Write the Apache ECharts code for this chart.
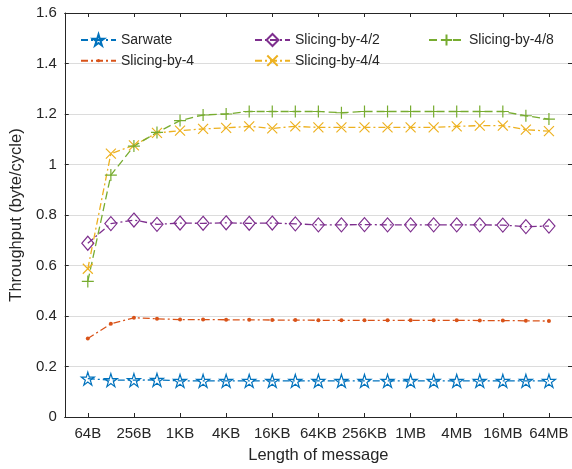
<!DOCTYPE html>
<html>
<head>
<meta charset="utf-8">
<script src="https://cdn.jsdelivr.net/npm/echarts@6/dist/echarts.min.js"></script>
<style>
html,body{margin:0;padding:0;background:#fff;}
#chart{width:572px;height:469px;}
</style>
</head>
<body>
<div id="chart"></div>
<script>
// ---- data ----
var sizes = ['64B','128B','256B','512B','1KB','2KB','4KB','8KB','16KB','32KB','64KB','128KB','256KB','512KB','1MB','2MB','4MB','8MB','16MB','32MB','64MB'];
var tickIndex = [0,2,4,6,8,10,12,14,16,18,20];
var yTicks = [0,0.2,0.4,0.6,0.8,1,1.2,1.4,1.6];
var seriesNames = ['Sarwate','Slicing-by-4','Slicing-by-4/2','Slicing-by-4/4','Slicing-by-4/8'];
var sarwate = [0.152,0.146,0.146,0.147,0.143,0.143,0.143,0.143,0.143,0.143,0.143,0.143,0.143,0.143,0.143,0.143,0.143,0.143,0.143,0.143,0.143];
var slicing4 = [0.311,0.369,0.393,0.389,0.386,0.386,0.385,0.385,0.384,0.384,0.383,0.383,0.383,0.383,0.383,0.383,0.383,0.382,0.382,0.381,0.380];
var slicing42 = [0.688,0.766,0.780,0.763,0.768,0.767,0.769,0.767,0.768,0.765,0.761,0.761,0.762,0.761,0.761,0.761,0.761,0.761,0.760,0.754,0.756];
var slicing44 = [0.587,1.043,1.076,1.125,1.134,1.141,1.145,1.151,1.143,1.151,1.147,1.147,1.147,1.147,1.147,1.147,1.151,1.154,1.154,1.138,1.132];
var slicing48 = [0.537,0.958,1.073,1.127,1.174,1.196,1.200,1.210,1.210,1.210,1.210,1.205,1.210,1.210,1.210,1.210,1.210,1.210,1.210,1.193,1.180];

// ---- styles ----
var FONT = '"Liberation Sans", Arial, Helvetica, sans-serif';
var TXT = '#262626';
var AX = '#262626';
var C = {blue:'#0072BD', orange:'#D95319', yellow:'#EDB120', purple:'#7E2F8E', green:'#77AC30'};
var DASHDOT = [7,3,2,3];
var DASH = [8,4];

function starPath(){
  var pts = [];
  for (var i = 0; i < 10; i++) {
    var a = (-90 + 36 * i) * Math.PI / 180;
    var r = (i % 2 === 0) ? 10 : 3.82;
    pts.push((r * Math.cos(a)).toFixed(3) + ',' + (r * Math.sin(a)).toFixed(3));
  }
  return 'path://M' + pts.join('L') + 'Z';
}
var SYM_STAR = starPath();
var SYM_DIAMOND = 'path://M0,-10L7,0L0,10L-7,0Z';
var SYM_X = 'path://M-5,-5L5,5M5,-5L-5,5';
var SYM_PLUS = 'path://M0,-6L0,6M-6,0L6,0';

function pairs(arr){ return arr.map(function(v,i){ return [i, v]; }); }

function mkSeries(name, data, color, symbol, size, dash, filled){
  return {
    name: name, type: 'line', data: pairs(data),
    symbol: symbol, symbolSize: size,
    lineStyle: {color: color, width: 1.3, type: dash},
    itemStyle: {color: filled ? color : 'rgba(0,0,0,0)', borderColor: color, borderWidth: filled ? 0 : 1.2},
    emphasis: {disabled: true},
    z: 3
  };
}

function mkLegend(name, left, rowCenter, h){
  return {
    orient: 'horizontal', itemWidth: 35, itemHeight: h, itemGap: 0,
    textStyle: {fontFamily: FONT, fontSize: 14, color: TXT},
    padding: 0, selectedMode: false,
    left: left, top: rowCenter - 8, height: 16,
    data: [name]
  };
}

var chart = echarts.init(document.getElementById('chart'), null, {renderer: 'canvas'});
var option = {
  animation: false,
  backgroundColor: '#fff',
  grid: {left: 61, top: 13, width: 512.6, height: 405, containLabel: false},
  legend: [
    mkLegend(seriesNames[0], 80, 41, 14),
    mkLegend(seriesNames[1], 80, 61.7, 4),
    mkLegend(seriesNames[2], 254, 41, 15),
    mkLegend(seriesNames[3], 254, 61.7, 13),
    mkLegend(seriesNames[4], 428, 41, 14)
  ],
  xAxis: [{
    type: 'value', min: -1, max: 21,
    name: 'Length of message', nameLocation: 'middle', nameGap: 30,
    nameTextStyle: {fontFamily: FONT, fontSize: 16.5, color: TXT},
    axisLine: {show: true, onZero: false, lineStyle: {color: AX, width: 1}},
    axisTick: {show: true, inside: true, length: 4, customValues: tickIndex, lineStyle: {color: AX}},
    axisLabel: {show: true, customValues: tickIndex, margin: 9, fontFamily: FONT, fontSize: 15, color: TXT,
      formatter: function(v){ return sizes[Math.round(v)] || ''; }},
    splitLine: {show: false}
  },{
    type: 'value', min: -1, max: 21, position: 'top',
    axisLine: {show: true, onZero: false, lineStyle: {color: AX, width: 1}},
    axisTick: {show: true, inside: true, length: 4, customValues: tickIndex, lineStyle: {color: AX}},
    axisLabel: {show: false},
    splitLine: {show: false}
  }],
  yAxis: [{
    type: 'value', min: 0, max: 1.6, interval: 0.2, position: 'left',
    name: 'Throughput (byte/cycle)', nameLocation: 'middle', nameGap: 36,
    nameTextStyle: {fontFamily: FONT, fontSize: 16.5, color: TXT},
    axisLine: {show: true, onZero: false, lineStyle: {color: AX, width: 1}},
    axisTick: {show: true, inside: true, length: 4, lineStyle: {color: AX}},
    axisLabel: {margin: 8, fontFamily: FONT, fontSize: 15, color: TXT,
      formatter: function(v){ return String(Math.round(v * 10) / 10); }},
    splitLine: {show: true, lineStyle: {color: '#dcdcdc', width: 1}}
  },{
    type: 'value', min: 0, max: 1.6, interval: 0.2, position: 'right',
    axisLine: {show: true, onZero: false, lineStyle: {color: AX, width: 1}},
    axisTick: {show: true, inside: true, length: 4, lineStyle: {color: AX}},
    axisLabel: {show: false},
    splitLine: {show: false}
  }],
  series: [
    mkSeries(seriesNames[0], sarwate, C.blue, SYM_STAR, 13, DASHDOT, false),
    mkSeries(seriesNames[1], slicing4, C.orange, 'circle', 4, DASHDOT, true),
    mkSeries(seriesNames[2], slicing42, C.purple, SYM_DIAMOND, [12,14], DASHDOT, false),
    mkSeries(seriesNames[3], slicing44, C.yellow, SYM_X, 10, DASHDOT, false),
    mkSeries(seriesNames[4], slicing48, C.green, SYM_PLUS, 12, DASH, false)
  ]
};
chart.setOption(option);
</script>
</body>
</html>
